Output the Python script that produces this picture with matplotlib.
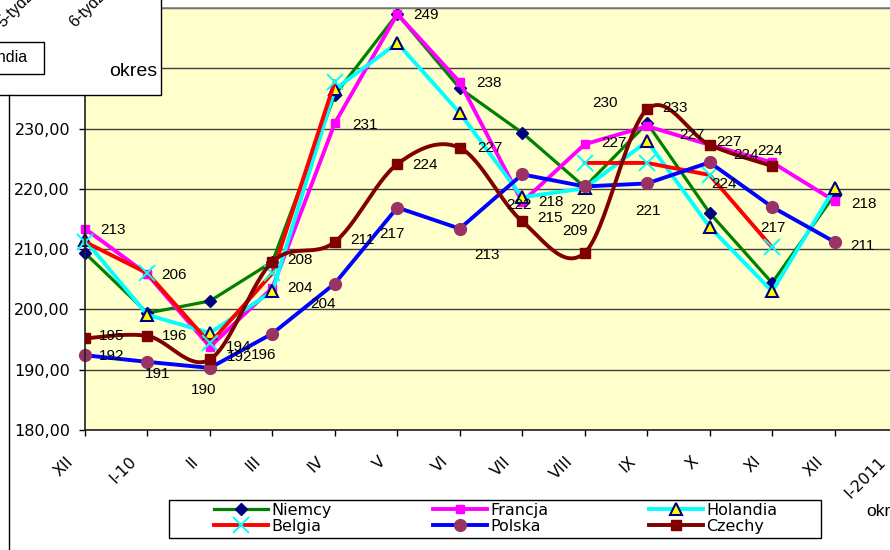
import numpy as np
import matplotlib
matplotlib.use("Agg")
import matplotlib.pyplot as plt
from matplotlib.lines import Line2D
from matplotlib.patches import Rectangle

# ---------------- data ----------------
categories = ['XII', 'I-10', 'II', 'III', 'IV', 'V', 'VI', 'VII', 'VIII',
              'IX', 'X', 'XI', 'XII', 'I-2011']
nan = np.nan
niemcy   = [209.35, 199.4, 201.4, 207.9, 235.6, 249.0, 236.7, 229.3, 220.3, 230.9, 216.0, 204.4, 219.0]
francja  = [213.4, 205.8, 193.8, 203.6, 230.9, 249.0, 237.7, 217.8, 227.4, 230.4, 227.3, 224.4, 218.0]
holandia = [211.5, 199.1, 196.1, 203.0, 236.5, 244.2, 232.6, 218.6, 220.1, 227.9, 213.7, 203.0, 220.1]
belgia   = [211.2, 206.0, 194.4, 206.0, 237.8, nan, nan, nan, 224.3, 224.3, 222.3, 210.3, nan]
polska   = [192.4, 191.3, 190.3, 196.0, 204.3, 216.9, 213.4, 222.4, 220.4, 220.9, 224.4, 217.0, 211.2]
czechy   = [195.2, 195.6, 191.7, 207.9, 211.2, 224.1, 226.8, 214.6, 209.4, 233.2, 227.3, 223.8, nan]
y_ticks = [180, 190, 200, 210, 220, 230, 240, 250]

# label offsets (pixels: right, down) for data labels
francja_off = [(28, 1), (27, 1), (29, 0), (28, 0), (30, 2), (29, 1), (29, 1), (29, 0),
               (29, -1), (-42, -23), (-18, -10), (-2, -11), (29, 3)]
polska_off = [(27, 1), (10, 12), (-6, 22), (-9, 21), (-12, 20), (-5, 26), (27, 26),
              (-3, 31), (-2, 24), (1, 28), (14, 22), (1, 21), (28, 4)]
czechy_off = [(27, -2), (27, 0), (30, -2), (28, -2), (28, -2), (28, 1), (30, 0),
              (28, -3), (-10, -22), (28, -1), (19, -3), (-26, -11), None]

W, H = 890, 550
fig = plt.figure(figsize=(W / 100, H / 100), dpi=100)
fig.patch.set_facecolor('white')


def fx(x):
    return x / W


def fy(y):
    return 1 - y / H


ax = fig.add_axes([fx(85), fy(430), (897 - 85) / W, (430 - 8) / H])
ax.set_facecolor('#FFFFCC')
ax.set_xlim(0, len(categories) - 1)
ax.set_ylim(180, 250)

ax.set_yticks(y_ticks)
ax.set_yticklabels([f"{v:.2f}".replace('.', ',') for v in y_ticks],
                   fontfamily='DejaVu Sans', fontsize=11.5)
ax.yaxis.grid(True, color='#404040', lw=1.0)
ax.set_axisbelow(True)
ax.tick_params(axis='y', length=4.3, width=1, pad=6.5, colors='black')
ax.set_xticks(range(len(categories)))
ax.tick_params(axis='x', length=4, width=1, labelbottom=False)
for s in ['left', 'bottom']:
    ax.spines[s].set_color('#202020')
    ax.spines[s].set_linewidth(1.2)
ax.spines['top'].set_color('#808080')
ax.spines['top'].set_linewidth(1.2)
ax.spines['right'].set_visible(False)

for i, lab in enumerate(categories):
    ax.annotate(lab, (i, 0), xycoords=('data', 'axes fraction'),
                xytext=(-10, -21), textcoords='offset points',
                rotation=45, ha='right', va='center', rotation_mode='anchor',
                fontfamily='DejaVu Sans', fontsize=11.5, annotation_clip=False)

x = np.arange(len(niemcy))


def smooth(xs, ys, n=30):
    pts = np.array([(a, b) for a, b in zip(xs, ys) if not np.isnan(b)])
    out = []
    for i in range(len(pts) - 1):
        p0 = pts[i - 1] if i > 0 else pts[i]
        p1, p2 = pts[i], pts[i + 1]
        p3 = pts[i + 2] if i + 2 < len(pts) else pts[i + 1]
        c1 = p1 + (p2 - p0) / 6
        c2 = p2 - (p3 - p1) / 6
        t = np.linspace(0, 1, n)[:, None]
        seg = ((1 - t) ** 3) * p1 + 3 * ((1 - t) ** 2) * t * c1 + 3 * (1 - t) * t ** 2 * c2 + t ** 3 * p2
        out.append(seg if i == 0 else seg[1:])
    out = np.vstack(out)
    return out[:, 0], out[:, 1]


styles = {
    'Niemcy': dict(color='#008000', lw=2.3, marker='D', ms=6, mfc='#000080', mec='#000080'),
    'Francja': dict(color='#FF00FF', lw=2.8, marker='s', ms=6, mfc='#FF00FF', mec='#FF00FF'),
    'Holandia': dict(color='#00FFFF', lw=2.8, marker='^', ms=8.5, mfc='#FFFF00', mec='#000080', mew=1.5),
    'Belgia': dict(color='#FF0000', lw=2.8, marker='x', ms=11, mec='#00FFFF', mew=1.4),
    'Polska': dict(color='#0000FF', lw=2.8, marker='o', ms=8.5, mfc='#993366', mec='#993366'),
    'Czechy': dict(color='#800000', lw=2.8, marker='s', ms=7.5, mfc='#800000', mec='#800000'),
}

handles = {}
for name, vals in [('Niemcy', niemcy), ('Francja', francja), ('Holandia', holandia),
                   ('Belgia', belgia), ('Polska', polska)]:
    ln, = ax.plot(x, vals, clip_on=False, **styles[name])
    handles[name] = ln

st = styles['Czechy']
sx, sy = smooth(x, czechy)
ax.plot(sx, sy, color=st['color'], lw=st['lw'], solid_capstyle='round')
ax.plot(x, czechy, ls='none', marker=st['marker'], ms=st['ms'], mfc=st['mfc'], mec=st['mec'])
handles['Czechy'] = Line2D([], [], **st)

# data labels
for vals, offs in [(francja, francja_off), (polska, polska_off), (czechy, czechy_off)]:
    for i, (v, o) in enumerate(zip(vals, offs)):
        if o is None or np.isnan(v):
            continue
        ax.annotate(f"{int(round(v))}", (i, v), xytext=(o[0] * 0.72, -o[1] * 0.72),
                    textcoords='offset points', ha='center', va='center',
                    fontfamily='Liberation Sans', fontsize=11, zorder=10,
                    annotation_clip=False)

# legend box
fig.add_artist(Rectangle((fx(169), fy(538)), (821 - 169) / W, (538 - 500) / H,
                         transform=fig.transFigure, facecolor='white',
                         edgecolor='black', lw=1.0, zorder=5))
order = ['Niemcy', 'Belgia', 'Francja', 'Polska', 'Holandia', 'Czechy']
leg = fig.legend([handles[k] for k in order], order, ncol=3, loc='upper left',
                 bbox_to_anchor=(fx(214), fy(503)), frameon=False, borderpad=0,
                 borderaxespad=0, handlelength=3.4, handletextpad=0.2,
                 columnspacing=6.3, labelspacing=0.05,
                 prop=dict(family='DejaVu Sans', size=11.5))
leg.set_zorder(6)

# x-axis title (cut off at the right edge)
fig.text(fx(866), fy(512), 'okres', ha='left', va='center',
         fontfamily='Liberation Sans', fontsize=12.5)

# overlapping fragment of another chart (top-left)
fig.add_artist(Rectangle((fx(-5), fy(95)), 166 / W, 100 / H, transform=fig.transFigure,
                         facecolor='white', edgecolor='black', lw=1.0, zorder=7))
fig.add_artist(Rectangle((fx(-5), fy(74)), 49 / W, 32 / H, transform=fig.transFigure,
                         facecolor='white', edgecolor='black', lw=1.0, zorder=8))
fig.text(fx(28), fy(58), 'Holandia', ha='right', va='center', fontfamily='Liberation Sans',
         fontsize=11.5, zorder=9)
fig.text(fx(157), fy(72), 'okres', ha='right', va='center', fontfamily='Liberation Sans',
         fontsize=14, zorder=9)
for xp, t in [(3, '5-tydz.'), (75, '6-tydz.')]:
    fig.text(fx(xp), fy(28), t, ha='left', va='baseline', rotation=45,
             rotation_mode='anchor', fontfamily='Liberation Sans', fontsize=11.5, zorder=9)
fig.add_artist(Line2D([fx(9), fx(9)], [fy(95), fy(552)], transform=fig.transFigure,
                      color='black', lw=1.0, zorder=7))

fig.savefig('out.png', dpi=100)
